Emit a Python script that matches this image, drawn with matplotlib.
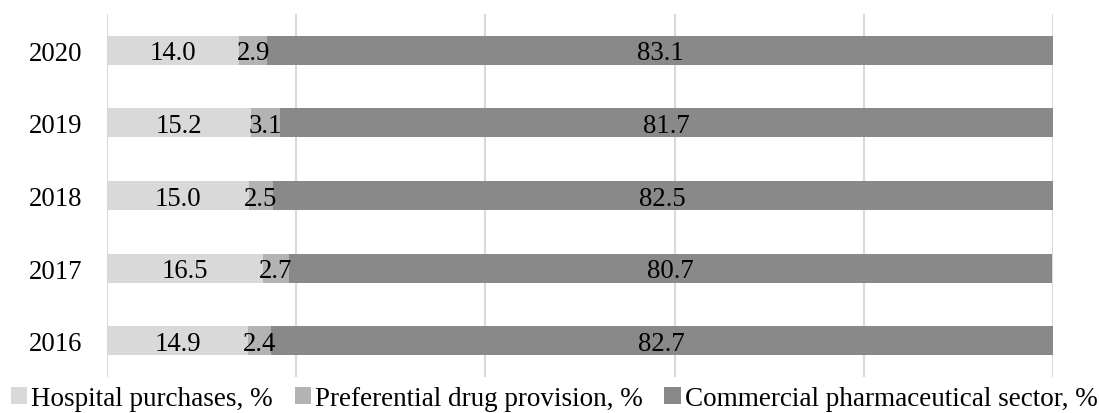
import matplotlib
matplotlib.use("Agg")
import matplotlib.pyplot as plt
import matplotlib.transforms as mtransforms
import numpy as np

years = ["2016", "2017", "2018", "2019", "2020"]
hospital = [14.9, 16.5, 15.0, 15.2, 14.0]
preferential = [2.4, 2.7, 2.5, 3.1, 2.9]
commercial = [82.7, 80.7, 82.5, 81.7, 83.1]
series_names = ["Hospital purchases, %", "Preferential drug provision, %",
                "Commercial pharmaceutical sector, %"]
colors = ["#d9d9d9", "#b3b3b3", "#898989"]

plt.rcParams['font.family'] = ['Liberation Serif', 'DejaVu Serif']
FS = 19.3

fig = plt.figure(figsize=(10.99, 4.14), dpi=100)
ax = fig.add_axes([107/1099, 36/414, (1053-107)/1099, (378-15)/414])

label_tr = mtransforms.offset_copy(ax.transData, fig=fig, y=-6.6, units='points')

y = np.arange(len(years))
left = np.zeros(len(years))
for vals, name, col in zip([hospital, preferential, commercial], series_names, colors):
    vals = np.array(vals)
    ax.barh(y, vals, left=left, height=0.4, color=col, label=name, zorder=2)
    for yi, l, v in zip(y, left, vals):
        ax.text(l + v/2, yi, f"{v:.1f}", ha="center", va="baseline",
                fontsize=FS, color="black", zorder=3, transform=label_tr)
    left = left + vals

ax.set_xlim(0, 100)
ax.set_ylim(-0.5, 4.5)
ax.set_xticks(np.arange(0, 101, 20))
ax.set_xticklabels([])
ax.tick_params(axis='x', length=0)
ax.set_yticks(y)
ax.set_yticklabels(years, fontsize=FS)
ax.tick_params(axis='y', length=0, pad=18)
ax.grid(axis='x', color="#d9d9d9", linewidth=1.5, zorder=0)
for s in ax.spines.values():
    s.set_visible(False)

fig.legend(loc="lower left", bbox_to_anchor=(11/1099, 0.004), ncol=3, frameon=False,
           fontsize=19.5, handlelength=0.6, handleheight=0.6, handletextpad=0.15,
           columnspacing=0.8, borderaxespad=0.0, borderpad=0.0)

fig.savefig("out.png", dpi=100)
